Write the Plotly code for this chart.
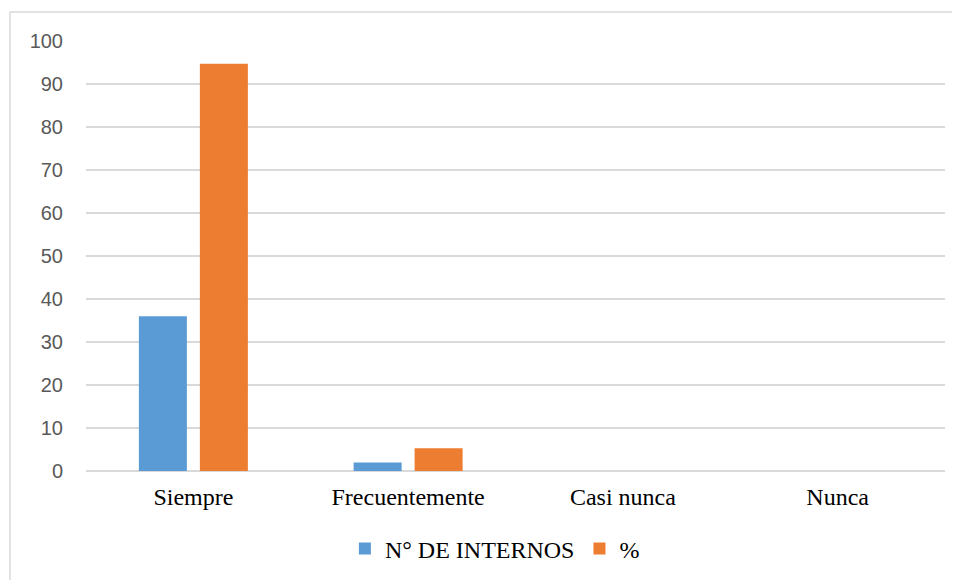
import plotly.graph_objects as go

categories = ["Siempre", "Frecuentemente", "Casi nunca", "Nunca"]
internos = [36, 2, 0, 0]
porcentaje = [94.7, 5.3, 0, 0]
y_ticks = list(range(0, 101, 10))

fig = go.Figure()
fig.add_trace(go.Bar(x=categories, y=internos, name="N° DE INTERNOS",
                     marker=dict(color="#5B9BD5", line=dict(width=0))))
fig.add_trace(go.Bar(x=categories, y=porcentaje, name="%",
                     marker=dict(color="#ED7D31", line=dict(width=0))))

fig.update_layout(
    width=960, height=580,
    margin=dict(l=78, r=23, t=33, b=117),
    paper_bgcolor="white", plot_bgcolor="white",
    barmode="group", bargap=0.432, bargroupgap=0.213,
    showlegend=True,
    legend=dict(orientation="h", x=0.476, xanchor="center", y=-0.181, yanchor="middle",
                font=dict(family="Liberation Serif", size=24, color="#000000"),
                itemwidth=30, tracegroupgap=0),
    xaxis=dict(showgrid=False, showline=False, ticks="",
               tickfont=dict(family="Liberation Serif", size=24, color="#000000"),
               ticklabelstandoff=9),
    yaxis=dict(range=[0, 100], tickvals=y_ticks, showgrid=True, gridcolor="#D9D9D9", gridwidth=1.5,
               zeroline=True, zerolinecolor="#D9D9D9", zerolinewidth=1.5, showline=False,
               tickfont=dict(family="Liberation Sans", size=20, color="#595959"),
               ticklabelstandoff=22),
    shapes=[dict(type="rect", xref="paper", yref="paper",
                 x0=(10 - 86) / 859, x1=(962 - 86) / 859,
                 y0=(471 - 582) / 430, y1=(471 - 12) / 430,
                 line=dict(color="#D9D9D9", width=1.5), fillcolor="rgba(0,0,0,0)", layer="below")],
)

fig.write_html("out.html")
